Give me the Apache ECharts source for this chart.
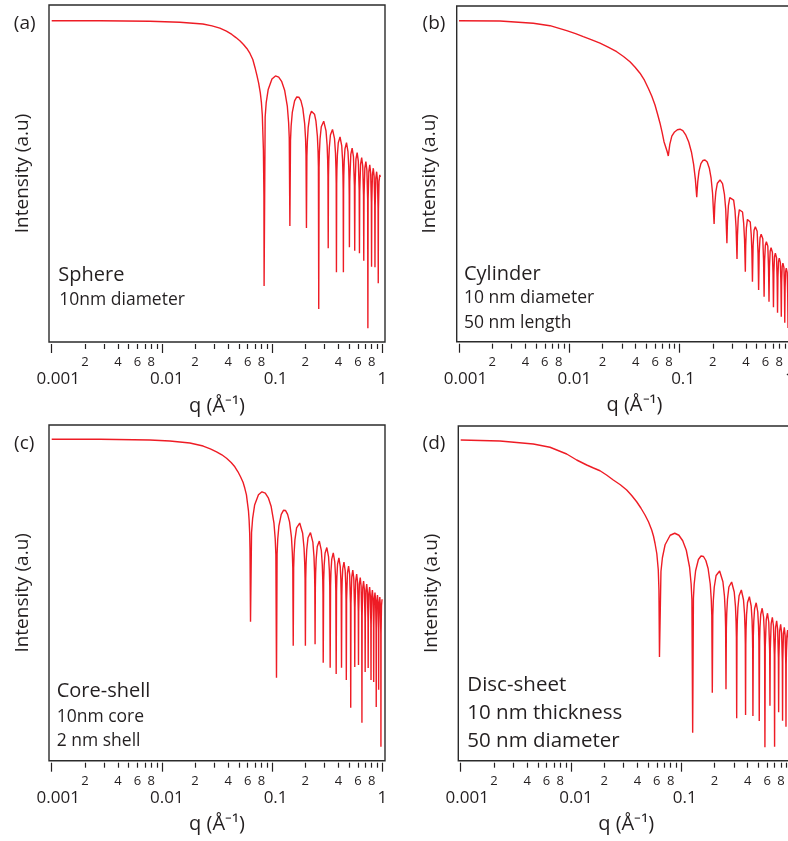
<!DOCTYPE html>
<html>
<head>
<meta charset="utf-8">
<script src="https://cdn.jsdelivr.net/npm/echarts@6.0.0/dist/echarts.min.js"></script>
<style>html,body{margin:0;padding:0;background:#fff}#c{width:788px;height:841px}</style>
</head>
<body>
<div id="c"></div>
<script>
// ---------- DATA (q in 1/Å, log10 of relative intensity) ----------
const spherePts = [
 [0.001,0],[0.00274,0],[0.00778,-0.02],[0.01456,-0.06],[0.02353,-0.13],[0.0285,-0.205],[0.03355,-0.30],[0.0385,-0.42],[0.04312,-0.55],[0.0470,-0.675],[0.05095,-0.80],[0.0550,-0.95],[0.05897,-1.11],[0.0630,-1.31],[0.06683,-1.55],[0.0700,-1.88],[0.07265,-2.17],[0.0755,-2.50],[0.07816,-2.89],[0.0800,-3.28],[0.08149,-3.77],[0.08339,-5.17],[0.0843,-7.0],[0.0846,-10.61],
 [0.0865,-3.85],[0.0884,-3.28],[0.0922,-2.75],[0.0997,-2.33],[0.1073,-2.21],[0.1148,-2.26],[0.1224,-2.44],[0.1299,-2.78],[0.1375,-3.43],[0.1412,-4.07],[0.1431,-4.69],[0.1450,-8.21],
 [0.1469,-4.80],[0.1488,-4.22],[0.1525,-3.67],[0.1600,-3.21],[0.1675,-3.05],[0.1750,-3.06],[0.1825,-3.20],[0.1900,-3.51],[0.1975,-4.12],[0.2013,-4.74],[0.2031,-5.36],[0.2050,-8.29],
 [0.2069,-5.42],[0.2088,-4.84],[0.2125,-4.28],[0.2200,-3.80],[0.2275,-3.62],[0.2350,-3.61],[0.2425,-3.74],[0.2500,-4.02],[0.2575,-4.61],[0.2613,-5.23],[0.2631,-5.84],[0.2650,-11.53],
 [0.2668,-5.88],[0.2686,-5.29],[0.2723,-4.73],[0.2795,-4.24],[0.2940,-4.02],[0.3085,-4.41],[0.3158,-4.98],[0.3194,-5.59],[0.3212,-6.20],[0.3230,-9.10],
 [0.3249,-6.22],[0.3268,-5.63],[0.3306,-5.07],[0.3382,-4.57],[0.3533,-4.35],[0.3685,-4.72],[0.3760,-5.29],[0.3798,-5.90],[0.3817,-6.50],[0.3836,-10.06],
 [0.3855,-6.54],[0.3873,-5.96],[0.3911,-5.38],[0.3986,-4.88],[0.4136,-4.65],[0.4285,-5.01],[0.4360,-5.57],[0.4397,-6.18],[0.4416,-6.78],[0.4435,-10.06],
 [0.4454,-6.79],[0.4472,-6.20],[0.4509,-5.63],[0.4584,-5.13],[0.4733,-4.88],[0.4881,-5.24],[0.4956,-5.80],[0.4993,-6.40],[0.5011,-7.00],[0.5030,-9.06],
 [0.5067,-6.44],[0.5178,-5.35],[0.5325,-5.10],[0.5473,-5.45],[0.5583,-6.60],[0.5620,-9.20],
 [0.5657,-6.63],[0.5766,-5.54],[0.5913,-5.28],[0.6059,-5.62],[0.6168,-6.77],[0.6205,-9.30],
 [0.6242,-6.83],[0.6351,-5.74],[0.6498,-5.48],[0.6644,-5.82],[0.6753,-6.97],[0.6790,-9.60],
 [0.6828,-6.99],[0.6943,-5.90],[0.7095,-5.64],[0.7248,-5.98],[0.7362,-7.13],[0.7400,-12.30],
 [0.7437,-7.13],[0.7548,-6.04],[0.7695,-5.77],[0.7843,-6.10],[0.7953,-7.25],[0.7990,-9.84],
 [0.8027,-7.27],[0.8138,-6.17],[0.8285,-5.90],[0.8433,-6.23],[0.8543,-7.37],[0.8580,-9.86],
 [0.8618,-7.41],[0.8733,-6.31],[0.8885,-6.04],[0.9038,-6.37],[0.9152,-7.51],[0.9190,-10.50],
 [0.9227,-7.54],[0.9338,-6.44],[0.9485,-6.17],[0.9600,-6.25]
];
const cylinderPts = [
 [0.001,0],[0.002353,-0.01],[0.004716,-0.10],[0.006683,-0.20],[0.009471,-0.40],[0.0114,-0.52],[0.01339,-0.64],[0.0160,-0.77],[0.01898,-0.90],[0.0225,-1.06],[0.0269,-1.24],[0.0310,-1.43],[0.0355,-1.64],[0.0395,-1.86],[0.04375,-2.10],[0.0480,-2.38],[0.05202,-2.70],[0.0560,-3.02],[0.05984,-3.37],[0.0630,-3.72],[0.06644,-4.10],[0.0695,-4.48],[0.07221,-4.84],[0.0770,-5.22],[0.0790,-5.41],
 [0.0815,-4.95],[0.085,-4.62],[0.090,-4.45],[0.0955,-4.36],[0.1008,-4.34],[0.107,-4.40],[0.114,-4.58],[0.121,-4.85],[0.128,-5.25],[0.134,-5.75],[0.139,-6.35],[0.1430,-7.06],
 [0.146,-6.45],[0.150,-6.02],[0.156,-5.72],[0.163,-5.59],[0.170,-5.57],[0.178,-5.65],[0.186,-5.90],[0.193,-6.30],[0.199,-6.90],[0.2055,-8.13],
 [0.2085,-7.35],[0.213,-6.85],[0.220,-6.50],[0.2324,-6.37],[0.245,-6.52],[0.255,-6.95],[0.262,-7.55],[0.2685,-8.90],
 [0.2715,-8.05],[0.277,-7.40],[0.285,-7.08],[0.2967,-7.00],[0.309,-7.18],[0.318,-7.60],[0.325,-8.25],[0.3315,-9.53],
 [0.3345,-8.60],[0.340,-7.90],[0.348,-7.56],[0.3603,-7.48],[0.372,-7.65],[0.381,-8.10],[0.388,-8.75],[0.3945,-10.04],
 [0.3975,-9.00],[0.403,-8.30],[0.412,-7.95],[0.4257,-7.88],[0.437,-8.05],[0.446,-8.55],[0.452,-9.20],[0.4575,-10.44],
 [0.4638,-9.00],[0.4733,-8.38],[0.4859,-8.24],[0.5048,-8.42],[0.5142,-9.30],[0.5205,-10.77],
 [0.5268,-9.30],[0.5363,-8.68],[0.5489,-8.54],[0.5678,-8.72],[0.5772,-9.60],[0.5835,-11.04],
 [0.5898,-9.60],[0.5993,-8.98],[0.6119,-8.84],[0.6308,-9.02],[0.6402,-9.90],[0.6465,-11.24],
 [0.6528,-9.84],[0.6623,-9.22],[0.6749,-9.08],[0.6938,-9.26],[0.7032,-10.14],[0.7095,-11.46],
 [0.7158,-10.06],[0.7253,-9.44],[0.7379,-9.30],[0.7568,-9.48],[0.7662,-10.36],[0.7725,-11.68],
 [0.7788,-10.26],[0.7883,-9.64],[0.8009,-9.50],[0.8198,-9.68],[0.8292,-10.56],[0.8355,-11.84],
 [0.8418,-10.46],[0.8513,-9.84],[0.8639,-9.70],[0.8828,-9.88],[0.8922,-10.76],[0.8985,-12.08],
 [0.9048,-10.66],[0.9143,-10.04],[0.9269,-9.90],[0.9458,-10.08],[0.9552,-10.96],[0.9615,-12.29],
 [0.9678,-10.85],[0.9773,-10.24],[0.9900,-10.10],[1.0,-10.12]
];
const coreShellPts = [
 [0.001,0],[0.00274,0],[0.00778,-0.03],[0.01182,-0.07],[0.01794,-0.15],[0.02368,-0.27],[0.0275,-0.38],[0.03132,-0.50],[0.0350,-0.62],[0.03861,-0.76],[0.0425,-0.93],[0.0459,-1.10],[0.0490,-1.30],[0.0517,-1.50],[0.0545,-1.72],[0.05656,-1.96],[0.0585,-2.22],[0.05982,-2.56],[0.0610,-2.85],[0.06185,-3.23],[0.0626,-3.75],[0.06303,-4.43],[0.0637,-7.30],
 [0.0651,-3.73],[0.0666,-3.16],[0.0694,-2.63],[0.0752,-2.22],[0.0809,-2.10],[0.0867,-2.15],[0.0924,-2.34],[0.0981,-2.69],[0.1039,-3.34],[0.1067,-3.98],[0.1082,-4.61],[0.1096,-9.54],
 [0.1110,-4.58],[0.1125,-4.00],[0.1153,-3.46],[0.1211,-3.00],[0.1268,-2.84],[0.1326,-2.85],[0.1383,-3.00],[0.1440,-3.30],[0.1498,-3.91],[0.1526,-4.54],[0.1541,-5.15],[0.1555,-8.26],
 [0.1569,-5.16],[0.1583,-4.58],[0.1611,-4.02],[0.1668,-3.54],[0.1780,-3.35],[0.1893,-3.76],[0.1949,-4.35],[0.1977,-4.96],[0.1991,-5.57],[0.2005,-8.26],
 [0.2019,-5.58],[0.2033,-4.99],[0.2061,-4.43],[0.2118,-3.94],[0.2230,-3.73],[0.2343,-4.11],[0.2399,-4.69],[0.2427,-5.30],[0.2441,-5.91],[0.2455,-8.20],
 [0.2469,-5.94],[0.2483,-5.36],[0.2512,-4.79],[0.2569,-4.29],[0.2683,-4.07],[0.2796,-4.44],[0.2853,-5.01],[0.2882,-5.61],[0.2896,-6.22],[0.2910,-8.94],
 [0.2938,-5.64],[0.2967,-5.06],[0.3024,-4.56],[0.3138,-4.33],[0.3251,-4.69],[0.3308,-5.25],[0.3337,-5.86],[0.3365,-9.14],
 [0.3393,-5.87],[0.3421,-5.29],[0.3478,-4.79],[0.3590,-4.54],[0.3703,-4.90],[0.3759,-5.46],[0.3787,-6.06],[0.3815,-9.39],
 [0.3843,-6.08],[0.3871,-5.50],[0.3928,-4.99],[0.4040,-4.74],[0.4153,-5.09],[0.4209,-5.65],[0.4237,-6.25],[0.4265,-9.14],
 [0.4293,-6.25],[0.4321,-5.68],[0.4378,-5.17],[0.4490,-4.91],[0.4603,-5.25],[0.4659,-5.81],[0.4687,-6.41],[0.4715,-9.63],
 [0.4743,-6.43],[0.4829,-5.34],[0.4943,-5.07],[0.5056,-5.41],[0.5142,-6.55],[0.5170,-10.74],
 [0.5198,-6.59],[0.5284,-5.50],[0.5398,-5.23],[0.5511,-5.57],[0.5597,-6.71],[0.5625,-9.11],
 [0.5653,-6.75],[0.5739,-5.66],[0.5853,-5.39],[0.5966,-5.73],[0.6052,-6.87],[0.6080,-9.03],
 [0.6108,-6.89],[0.6194,-5.80],[0.6308,-5.53],[0.6421,-5.87],[0.6507,-7.01],[0.6535,-11.34],
 [0.6563,-7.03],[0.6649,-5.94],[0.6763,-5.67],[0.6876,-6.01],[0.6962,-7.15],[0.6990,-9.31],
 [0.7018,-7.15],[0.7104,-6.06],[0.7218,-5.79],[0.7331,-6.13],[0.7417,-7.27],[0.7445,-9.15],
 [0.7473,-7.27],[0.7559,-6.18],[0.7673,-5.91],[0.7786,-6.25],[0.7872,-7.39],[0.7900,-9.63],
 [0.7928,-7.39],[0.8014,-6.30],[0.8128,-6.03],[0.8241,-6.37],[0.8327,-7.51],[0.8355,-9.71],
 [0.8383,-7.49],[0.8469,-6.40],[0.8583,-6.13],[0.8696,-6.47],[0.8782,-7.61],[0.8810,-10.71],
 [0.8838,-7.59],[0.8924,-6.50],[0.9038,-6.23],[0.9151,-6.57],[0.9237,-7.71],[0.9265,-10.02],
 [0.9293,-7.67],[0.9379,-6.58],[0.9493,-6.31],[0.9606,-6.65],[0.9692,-7.79],[0.9720,-12.30],
 [0.9748,-7.75],[0.9834,-6.66],[0.9950,-6.40],[1.0,-6.40]
];
const discPts = [
 [0.001,0],[0.002271,-0.04],[0.004551,-0.16],[0.006451,-0.29],[0.009141,-0.56],[0.01126,-0.80],[0.01388,-1.00],[0.0160,-1.12],[0.01832,-1.23],[0.0210,-1.40],[0.02418,-1.60],[0.0280,-1.79],[0.03199,-2.00],[0.0355,-2.22],[0.03939,-2.47],[0.0430,-2.72],[0.04688,-3.00],[0.0505,-3.28],[0.05391,-3.60],[0.0560,-3.85],[0.05775,-4.13],[0.0600,-4.55],[0.06185,-5.20],[0.0627,-6.0],[0.0634,-8.68],
 [0.0654,-5.26],[0.0674,-4.71],[0.0713,-4.19],[0.0793,-3.81],[0.0872,-3.73],[0.0951,-3.81],[0.1030,-4.03],[0.1110,-4.41],[0.1189,-5.09],[0.1228,-5.76],[0.1248,-6.39],[0.1268,-11.71],
 [0.1288,-6.34],[0.1308,-5.77],[0.1348,-5.23],[0.1429,-4.78],[0.1509,-4.64],[0.1589,-4.66],[0.1669,-4.82],[0.1750,-5.14],[0.1830,-5.76],[0.1870,-6.39],[0.1890,-7.01],[0.1910,-10.11],
 [0.1930,-7.02],[0.1950,-6.44],[0.1989,-5.89],[0.2068,-5.42],[0.2226,-5.24],[0.2384,-5.67],[0.2463,-6.26],[0.2502,-6.88],[0.2522,-7.49],[0.2542,-9.97],
 [0.2562,-7.52],[0.2582,-6.93],[0.2622,-6.37],[0.2701,-5.88],[0.2860,-5.68],[0.3019,-6.08],[0.3098,-6.66],[0.3138,-7.27],[0.3158,-7.88],[0.3178,-11.13],
 [0.3198,-7.87],[0.3218,-7.28],[0.3259,-6.72],[0.3340,-6.23],[0.3502,-6.00],[0.3663,-6.39],[0.3744,-6.96],[0.3785,-7.57],[0.3805,-8.17],[0.3825,-11.00],
 [0.3845,-8.16],[0.3865,-7.57],[0.3904,-7.00],[0.3984,-6.50],[0.4143,-6.27],[0.4301,-6.64],[0.4381,-7.20],[0.4420,-7.81],[0.4440,-8.41],[0.4460,-11.04],
 [0.4499,-7.83],[0.4539,-7.26],[0.4618,-6.75],[0.4775,-6.51],[0.4933,-6.87],[0.5011,-7.43],[0.5051,-8.03],[0.5090,-11.24],
 [0.5130,-8.06],[0.5170,-7.49],[0.5250,-6.98],[0.5410,-6.73],[0.5570,-7.08],[0.5650,-7.64],[0.5690,-8.24],[0.5730,-12.29],
 [0.5770,-8.27],[0.5889,-7.19],[0.6048,-6.93],[0.6206,-7.28],[0.6325,-8.43],[0.6365,-10.63],
 [0.6405,-8.43],[0.6526,-7.35],[0.6688,-7.09],[0.6849,-7.44],[0.6970,-8.59],[0.7010,-12.27],
 [0.7049,-8.57],[0.7165,-7.49],[0.7320,-7.23],[0.7475,-7.58],[0.7591,-8.73],[0.7630,-10.89],
 [0.7671,-8.71],[0.7793,-7.63],[0.7955,-7.37],[0.8118,-7.72],[0.8239,-8.87],[0.8280,-11.23],
 [0.8318,-8.83],[0.8434,-7.75],[0.8588,-7.49],[0.8741,-7.84],[0.8857,-8.99],[0.8895,-11.47],
 [0.8934,-8.94],[0.9051,-7.86],[0.9208,-7.60],[0.9364,-7.95],[0.9481,-9.10],[0.9520,-11.30],
 [0.9559,-9.05],[0.9676,-7.97],[0.9833,-7.71],[1.0,-7.75]
];
// tick values and labels
const majorTicks = [0.001, 0.01, 0.1, 1];
const majorTickLabels = ['0.001', '0.01', '0.1', '1'];
const minorTicks = [0.002,0.003,0.004,0.005,0.006,0.007,0.008,0.009,
                    0.02,0.03,0.04,0.05,0.06,0.07,0.08,0.09,
                    0.2,0.3,0.4,0.5,0.6,0.7,0.8,0.9];
const minorLabelValues = [0.002,0.004,0.006,0.008,0.02,0.04,0.06,0.08,0.2,0.4,0.6,0.8];
const minorLabelTexts = ['2','4','6','8','2','4','6','8','2','4','6','8'];
const panelLetters = ['(a)','(b)','(c)','(d)'];
const panelNotes = [
  ['Sphere','10nm diameter'],
  ['Cylinder','10 nm diameter','50 nm length'],
  ['Core-shell','10nm core','2 nm shell'],
  ['Disc-sheet','10 nm thickness','50 nm diameter']
];
const xTitle = 'q (Å⁻¹)';
const yTitle = 'Intensity (a.u)';

// ---------- LAYOUT / STYLE ----------
const INK = '#231f20';
const RED = '#ee1c25';
const FONT = 'Open Sans';
const majorLabelPad = [13, 10, 7, 0];   // left padding shifting major labels as in the original
const layout = [
  {grid:{left:51.7, top:5,   width:330.6, height:337},   yMin:-12.852, yMax:0.628, frame:[49,5,336,337], titlePad:0,
   letter:[24.7,24], notes:[[58.3,275,20],[59.3,300,17.5]]},
  {grid:{left:459,  top:6,   width:330.9, height:335.7}, yMin:-12.84,  yMax:0.588, frame:[456.7,6,400,335.7], titlePad:20,
   letter:[434,23.3], notes:[[464,274,20],[464,298,17.5],[464,322.7,17.5]]},
  {grid:{left:51.7, top:425, width:330.6, height:335.7}, yMin:-12.856, yMax:0.572, frame:[49,425,336,335.7], titlePad:0,
   letter:[24.2,443.3], notes:[[56.7,691.7,20],[56.7,716.7,17.5],[56.7,741,17.5]]},
  {grid:{left:460.7,top:426, width:330.9, height:334.7}, yMin:-12.828, yMax:0.56, frame:[458.3,426,400,334.7], titlePad:0,
   letter:[434,443.3], notes:[[467.3,685,20.5],[467.3,712.7,20.5],[467.3,740.7,20.5]]}
];
const seriesData = [spherePts, cylinderPts, coreShellPts, discPts];

function findIdx(arr, v){ for(let i=0;i<arr.length;i++){ if(Math.abs(arr[i]-v) <= arr[i]*1e-6) return i; } return -1; }

const majorRich = {};
majorLabelPad.forEach((p,k)=>{ majorRich['m'+k] = {fontSize:17, fontFamily:FONT, color:INK, padding:[0,0,0,p]}; });

const grids=[], xAxes=[], yAxes=[], series=[], graphics=[];
layout.forEach((L,i)=>{
  grids.push(Object.assign({containLabel:false, outerBoundsMode:'none', show:false}, L.grid));
  xAxes.push({
    type:'log', logBase:10, min:0.001, max:1, gridIndex:i, position:'bottom', offset:2,
    axisLine:{show:false, onZero:false}, splitLine:{show:false}, minorTick:{show:false}, minorSplitLine:{show:false},
    axisTick:{show:true, customValues:majorTicks, length:9, lineStyle:{color:INK, width:1.2}},
    axisLabel:{show:true, customValues:majorTicks, margin:27, fontSize:17, color:INK, fontFamily:FONT, rich:majorRich,
      formatter:(v)=>{const k=findIdx(majorTicks,v); return k>=0?('{m'+k+'|'+majorTickLabels[k]+'}'):'';}},
    name:xTitle, nameLocation:'middle', nameGap:52,
    nameTextStyle:{fontSize:20, color:INK, fontFamily:FONT, padding:[0,0,0,L.titlePad]}
  });
  xAxes.push({
    type:'log', logBase:10, min:0.001, max:1, gridIndex:i, position:'bottom', offset:2,
    axisLine:{show:false, onZero:false}, splitLine:{show:false}, minorTick:{show:false},
    axisTick:{show:true, customValues:minorTicks, length:5, lineStyle:{color:INK, width:1.2}},
    axisLabel:{show:true, customValues:minorLabelValues, margin:12, fontSize:13, color:INK, fontFamily:FONT,
      formatter:(v)=>{const k=findIdx(minorLabelValues,v); return k>=0?minorLabelTexts[k]:'';}}
  });
  yAxes.push({
    type:'value', gridIndex:i, min:L.yMin, max:L.yMax,
    axisLine:{show:false, onZero:false}, axisTick:{show:false}, axisLabel:{show:false}, splitLine:{show:false},
    name:yTitle, nameLocation:'middle', nameRotate:90, nameGap:20,
    nameTextStyle:{fontSize:19, color:INK, fontFamily:FONT}
  });
  series.push({
    type:'line', xAxisIndex:2*i, yAxisIndex:i, data:seriesData[i],
    showSymbol:false, symbol:'none', smooth:false, clip:true, silent:true,
    lineStyle:{color:RED, width:1.4}, animation:false
  });
  const f=L.frame;
  graphics.push({type:'rect', shape:{x:f[0], y:f[1], width:f[2], height:f[3]},
    style:{fill:'none', stroke:'#2b2b2b', lineWidth:1.4}, silent:true, z:10});
  graphics.push({type:'text', x:L.letter[0], y:L.letter[1],
    style:{text:panelLetters[i], fontSize:19, fontFamily:FONT, fill:INK, align:'center', verticalAlign:'middle'}});
  panelNotes[i].forEach((t,j)=>{
    const n=L.notes[j];
    graphics.push({type:'text', x:n[0], y:n[1],
      style:{text:t, fontSize:n[2], fontFamily:FONT, fill:INK, align:'left', verticalAlign:'middle'}});
  });
});

const chart = echarts.init(document.getElementById('c'), null, {renderer:'canvas'});
chart.setOption({
  animation:false,
  backgroundColor:'#fff',
  textStyle:{fontFamily:FONT, color:INK},
  grid:grids, xAxis:xAxes, yAxis:yAxes, series:series, graphic:graphics
});
</script>
</body>
</html>
